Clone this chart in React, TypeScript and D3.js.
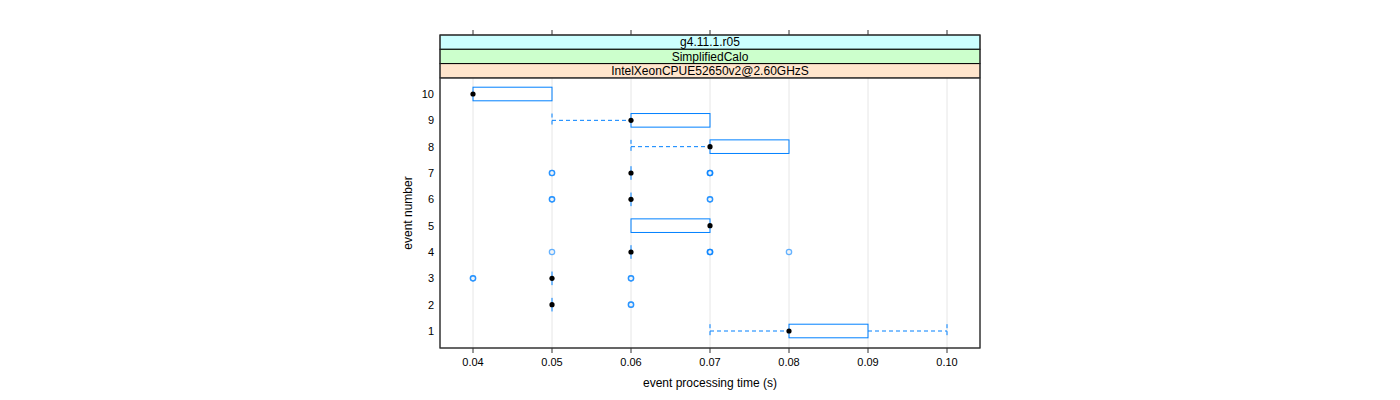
import React from "react";
import * as d3 from "d3";

const events = [1, 2, 3, 4, 5, 6, 7, 8, 9, 10];
// box stats per event
const whiskerLow = [0.07, 0.05, 0.05, 0.06, 0.06, 0.06, 0.06, 0.06, 0.05, 0.04];
const q1 = [0.08, 0.05, 0.05, 0.06, 0.06, 0.06, 0.06, 0.07, 0.06, 0.04];
const medians = [0.08, 0.05, 0.05, 0.06, 0.07, 0.06, 0.06, 0.07, 0.06, 0.04];
const q3 = [0.09, 0.05, 0.05, 0.06, 0.07, 0.06, 0.06, 0.08, 0.07, 0.05];
const whiskerHigh = [0.1, 0.05, 0.05, 0.06, 0.07, 0.06, 0.06, 0.08, 0.07, 0.05];
// outliers (repeated values are overplotted)
const outliers: number[][] = [
  [],
  [0.06, 0.06],
  [0.04, 0.04, 0.06, 0.06],
  [0.05, 0.07, 0.07, 0.07, 0.08],
  [],
  [0.05, 0.05, 0.07, 0.07],
  [0.05, 0.05, 0.07, 0.07, 0.07],
  [],
  [],
  [],
];
const xTicks = [0.04, 0.05, 0.06, 0.07, 0.08, 0.09, 0.1];
const xTickLabels = ["0.04", "0.05", "0.06", "0.07", "0.08", "0.09", "0.10"];
const strips = ["g4.11.1.r05", "SimplifiedCalo", "IntelXeonCPUE52650v2@2.60GHzS"];
const stripColors = ["#ccffff", "#ccffcc", "#ffe5cc"];
const xTitle = "event processing time (s)";
const yTitle = "event number";

export default function App() {
  const W = 1400, H = 400;
  const left = 440, right = 980, top = 78, bottom = 348;
  const stripTop = 35, stripH = 14.3;
  const x = d3.scaleLinear().domain([0.04, 0.1]).range([473, 947]);
  const y = d3.scaleLinear().domain([1, 10]).range([331, 94]);
  const bh = 6.8;
  const blue = "#0080ff";
  const font = "'Liberation Sans', Arial, Helvetica, sans-serif";
  return (
    <svg width={W} height={H} style={{ position: "absolute", left: 0, top: 0, background: "#fff" }} fontFamily={font}>
      {xTicks.map((t) => (
        <line key={"g" + t} x1={x(t)} x2={x(t)} y1={top} y2={bottom} stroke="#e6e6e6" strokeWidth={1} />
      ))}
      {strips.map((s, i) => (
        <g key={s}>
          <rect x={left} y={stripTop + i * stripH} width={right - left} height={stripH} fill={stripColors[i]} stroke="#000" strokeWidth={1} />
          <text x={(left + right) / 2} y={stripTop + i * stripH + stripH / 2 + 4.3} textAnchor="middle" fontSize={12}>{s}</text>
        </g>
      ))}
      {events.map((e, i) => {
        const cy = y(e);
        const degenerate = q1[i] === q3[i];
        return (
          <g key={"b" + e}>
            {whiskerLow[i] < q1[i] && (
              <>
                <line x1={x(whiskerLow[i])} x2={x(q1[i])} y1={cy} y2={cy} stroke={blue} strokeDasharray="4,3" />
                <line x1={x(whiskerLow[i])} x2={x(whiskerLow[i])} y1={cy - bh} y2={cy + bh} stroke={blue} strokeDasharray="4,3" />
              </>
            )}
            {whiskerHigh[i] > q3[i] && (
              <>
                <line x1={x(q3[i])} x2={x(whiskerHigh[i])} y1={cy} y2={cy} stroke={blue} strokeDasharray="4,3" />
                <line x1={x(whiskerHigh[i])} x2={x(whiskerHigh[i])} y1={cy - bh} y2={cy + bh} stroke={blue} strokeDasharray="4,3" />
              </>
            )}
            {degenerate ? (
              <line x1={x(q1[i])} x2={x(q1[i])} y1={cy - bh} y2={cy + bh} stroke={blue} />
            ) : (
              <rect x={x(q1[i])} y={cy - bh} width={x(q3[i]) - x(q1[i])} height={2 * bh} fill="none" stroke={blue} />
            )}
            {outliers[i].map((o, j) => (
              <circle key={j} cx={x(o)} cy={cy} r={2.6} fill="none" stroke={blue} strokeWidth={1.4} strokeOpacity={0.6} />
            ))}
            <circle cx={x(medians[i])} cy={cy} r={2.6} fill="#000" />
          </g>
        );
      })}
      <rect x={left} y={top} width={right - left} height={bottom - top} fill="none" stroke="#333" strokeWidth={1} />
      <rect x={left} y={stripTop} width={right - left} height={bottom - stripTop} fill="none" stroke="#333" strokeWidth={1} />
      {xTicks.map((t, i) => (
        <g key={"t" + t}>
          <line x1={x(t)} x2={x(t)} y1={bottom} y2={bottom + 5} stroke="#333" />
          <line x1={x(t)} x2={x(t)} y1={stripTop} y2={stripTop - 5} stroke="#333" />
          <text x={x(t)} y={bottom + 18} textAnchor="middle" fontSize={11}>{xTickLabels[i]}</text>
        </g>
      ))}
      {events.map((e) => (
        <text key={"y" + e} x={left - 6} y={y(e) + 4} textAnchor="end" fontSize={11}>{e}</text>
      ))}
      <text x={(left + right) / 2} y={387} textAnchor="middle" fontSize={12}>{xTitle}</text>
      <text transform={`translate(${412},${(top + bottom) / 2}) rotate(-90)`} textAnchor="middle" fontSize={12}>{yTitle}</text>
    </svg>
  );
}
